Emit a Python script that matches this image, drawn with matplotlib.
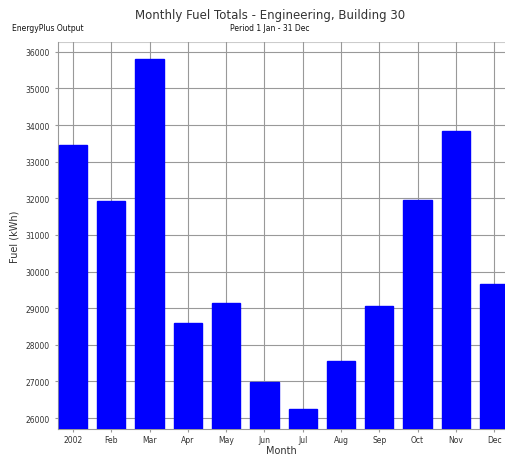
import numpy as np
import matplotlib.pyplot as plt

# Monthly fuel totals
months = ['2002', 'Feb', 'Mar', 'Apr', 'May', 'Jun', 'Jul', 'Aug', 'Sep', 'Oct', 'Nov', 'Dec']
fuel_kwh = [33450, 31930, 35810, 28590, 29140, 26980, 26250, 27560, 29060, 31960, 33840, 29660]
y_ticks = [26000, 27000, 28000, 29000, 30000, 31000, 32000, 33000, 34000, 35000, 36000]

fig = plt.figure(figsize=(5.06, 4.56), dpi=100)
ax = fig.add_axes([0.1146, 0.057, 0.8854, 0.849])

x = np.arange(len(months))
ax.bar(x, fuel_kwh, width=0.74, color='#0000ff', edgecolor='#0000ff', zorder=3)

ax.set_xlim(-0.39, 11.31)
ax.set_ylim(25700, 36270)
ax.set_xticks(x)
ax.set_xticklabels(months, fontsize=5.5, color='#333333')
ax.set_yticks(y_ticks)
ax.set_yticklabels([str(v) for v in y_ticks], fontsize=5.5, color='#333333')
ax.tick_params(axis='both', length=2.5, color='#999999', width=0.8)
ax.tick_params(axis='x', pad=1.5)

ax.grid(True, color='#999999', linewidth=0.8, zorder=0)
for side in ['top', 'right']:
    ax.spines[side].set_visible(False)
ax.spines['left'].set_color('#999999')
ax.spines['bottom'].set_color('#999999')
ax.axhline(36270, color='#cccccc', linewidth=1.5, zorder=1)

ax.set_ylabel('Fuel (kWh)', fontsize=7, color='#333333', labelpad=4)

fig.text(0.534, 0.967, 'Monthly Fuel Totals - Engineering, Building 30', ha='center', va='center',
         fontsize=8.5, color='#333333')
fig.text(0.534, 0.938, 'Period 1 Jan - 31 Dec', ha='center', va='center', fontsize=5.5, color='#111111')
fig.text(0.024, 0.938, 'EnergyPlus Output', ha='left', va='center', fontsize=5.5, color='#111111')
fig.text(0.557, 0.012, 'Month', ha='center', va='center', fontsize=7, color='#333333')

fig.savefig('out.png', dpi=100)
